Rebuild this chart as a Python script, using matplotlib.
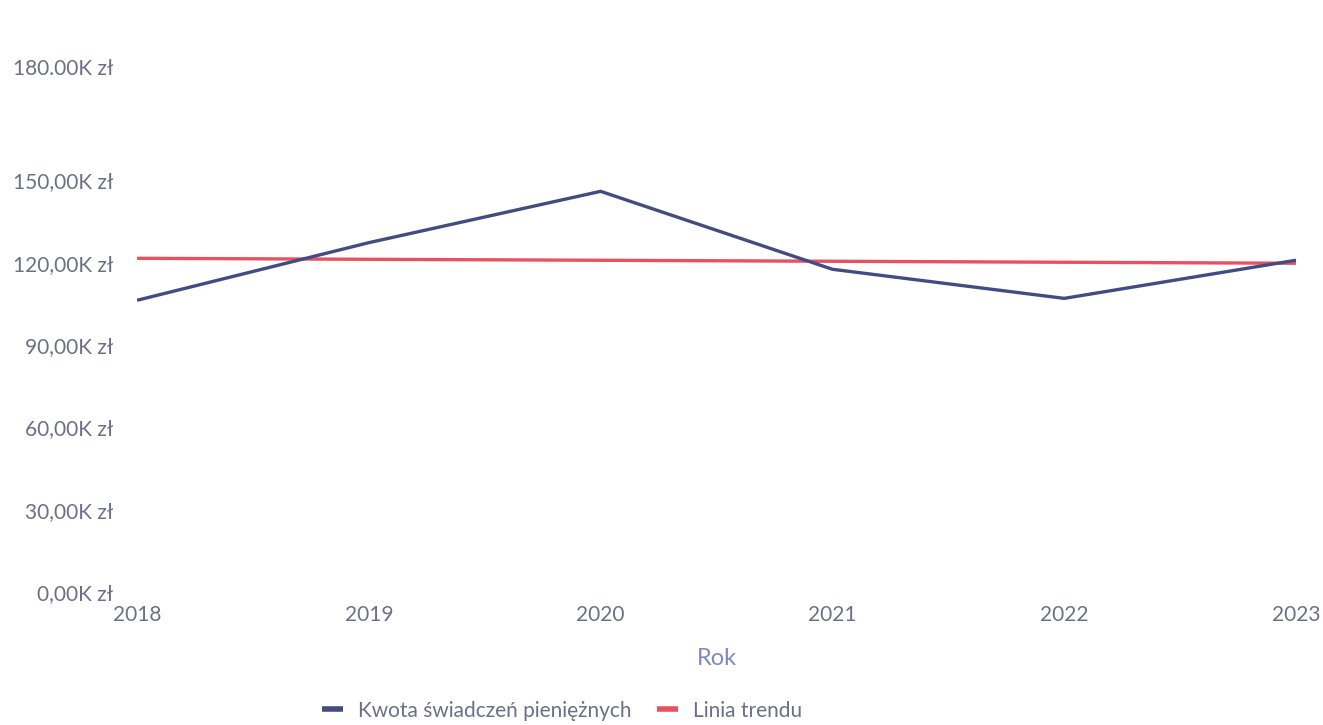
import matplotlib
matplotlib.use("Agg")
import matplotlib.pyplot as plt
from matplotlib.transforms import ScaledTranslation

# dane (w tys. zł)
years = [2018, 2019, 2020, 2021, 2022, 2023]
amounts = [106.3, 127.3, 146.0, 117.6, 107.0, 120.9]
trend_years = [2018, 2023]
trend_values = [121.6, 119.8]
y_ticks = [0, 30, 60, 90, 120, 150, 180]
y_labels = ["0,00K zł", "30,00K zł", "60,00K zł", "90,00K zł",
            "120,00K zł", "150,00K zł", "180.00K zł"]

plt.rcParams['font.family'] = ['Lato', 'DejaVu Sans']

fig = plt.figure(figsize=(13.23, 7.25), dpi=100)
ax = fig.add_axes([0.1036, 0.1834, 0.876, 0.6814])

ax.plot(years, amounts, color='#434c82', lw=2.4, label='Kwota świadczeń pieniężnych',
        solid_capstyle='butt', zorder=3)
ax.plot(trend_years, trend_values, color='#e8515f', lw=2.4, label='Linia trendu',
        solid_capstyle='butt', zorder=2)

ax.set_xlim(2018, 2023)
ax.set_ylim(0, 180)
ax.set_xticks(years)
ax.set_yticks(y_ticks)
ax.set_yticklabels(y_labels)

tick_color = '#6c7087'
ax.tick_params(axis='both', length=0, labelsize=15, labelcolor=tick_color)
ax.tick_params(axis='y', pad=17)
ax.tick_params(axis='x', pad=9)
for s in ax.spines.values():
    s.set_visible(False)

# etykieta 180 przesunięta wyżej jak w oryginale
top_tick = ax.yaxis.get_major_ticks()[-1].label1
top_tick.set_transform(top_tick.get_transform() + ScaledTranslation(0, 0.31, fig.dpi_scale_trans))

ax.set_xlabel('Rok', fontsize=17, color='#8088c2', labelpad=17)

leg = fig.legend(loc='lower center', bbox_to_anchor=(0.425, -0.02), ncol=2, frameon=False,
                 fontsize=15, handlelength=1.0, columnspacing=1.2, handletextpad=0.75)
for t in leg.get_texts():
    t.set_color(tick_color)
for h in leg.get_lines():
    h.set_linewidth(4)

fig.savefig('out.png', dpi=100)
